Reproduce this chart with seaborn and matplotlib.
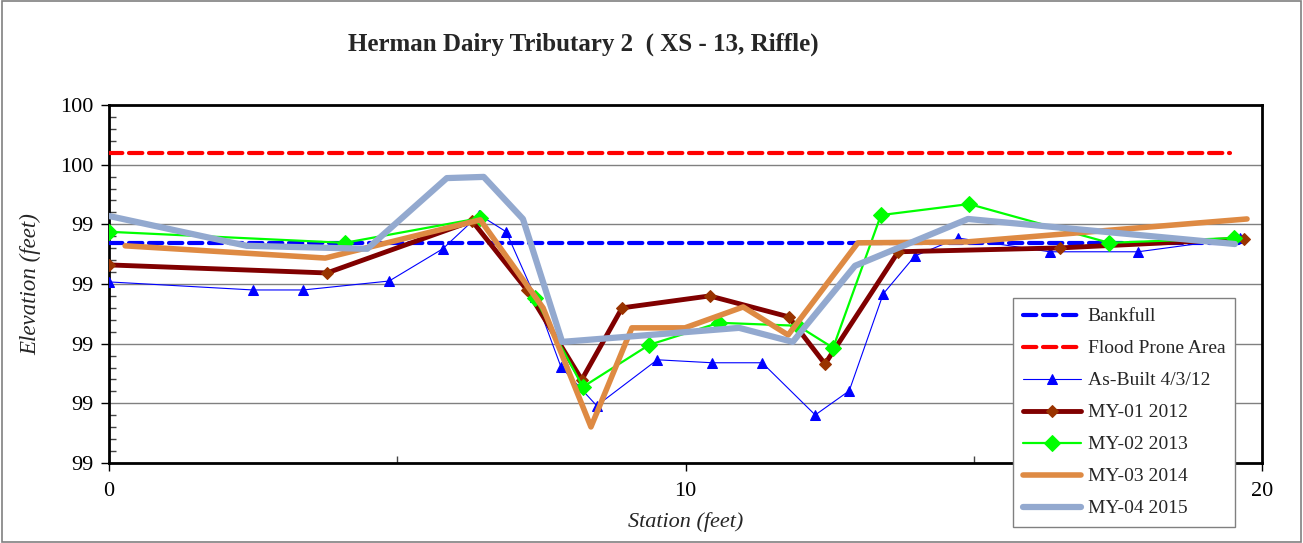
import numpy as np
import pandas as pd
import matplotlib
matplotlib.use("Agg")
import matplotlib.pyplot as plt
from matplotlib.patches import Rectangle
from matplotlib.ticker import MultipleLocator, FixedLocator, FixedFormatter
import seaborn as sns

# ---------------- data ----------------
title = "Herman Dairy Tributary 2  ( XS - 13, Riffle)"

bankfull_x = [0.0, 19.6]
bankfull_y = [99.338, 99.338]
flood_x = [0.0, 19.45]
flood_y = [99.639, 99.639]

asbuilt_x = [0.00, 2.50, 3.37, 4.86, 5.79, 6.42, 6.89, 7.39, 7.84, 8.46, 9.51,
             10.46, 11.33, 12.25, 12.84, 13.43, 13.98, 14.73, 16.32, 17.85, 19.62]
asbuilt_y = [99.207, 99.180, 99.180, 99.210, 99.318, 99.432, 99.375, 99.157,
             98.922, 98.792, 98.946, 98.936, 98.936, 98.761, 98.842, 99.167,
             99.294, 99.354, 99.308, 99.308, 99.354]

my01_x = [0.00, 3.78, 6.30, 7.25, 8.20, 8.90, 10.42, 11.79, 12.42, 13.69, 16.50, 19.69]
my01_y = [99.264, 99.237, 99.411, 99.180, 98.879, 99.120, 99.160, 99.090,
          98.932, 99.308, 99.321, 99.351]

my02_x = [0.00, 4.09, 6.44, 7.39, 8.22, 9.37, 10.58, 11.95, 12.56, 13.39, 14.92, 17.35, 19.51]
my02_y = [99.375, 99.338, 99.421, 99.153, 98.855, 98.996, 99.070, 99.060,
          98.986, 99.431, 99.468, 99.338, 99.354]

my03_x = [0.28, 3.75, 6.44, 7.53, 8.36, 9.07, 9.99, 11.00, 11.78, 12.99, 14.88, 19.74]
my03_y = [99.328, 99.287, 99.415, 99.120, 98.721, 99.053, 99.053, 99.123,
          99.029, 99.338, 99.341, 99.418]

my04_x = [0.00, 2.39, 4.48, 5.86, 6.50, 7.18, 7.86, 10.93, 11.86, 12.94, 14.90, 19.53]
my04_y = [99.428, 99.328, 99.318, 99.555, 99.559, 99.418, 99.006, 99.053,
          99.006, 99.261, 99.418, 99.334]

y_ticks = [98.6, 98.8, 99.0, 99.2, 99.4, 99.6, 99.8]
y_tick_labels = ["99", "99", "99", "99", "99", "100", "100"]
x_ticks = [0, 10, 20]
x_tick_labels = ["0", "10", "20"]

# ---------------- style ----------------
sns.set_theme(style="white")
plt.rcParams['font.family'] = ['Liberation Serif', 'DejaVu Serif']

fig = plt.figure(figsize=(13.03, 5.43), dpi=100)
ax = fig.add_axes([109/1303, 1-463/543, (1262-109)/1303, (463-105)/543])

series = [
    ("Bankfull", bankfull_x, bankfull_y,
     dict(color="#0000FF", lw=3, linestyle=(0, (3.2, 1.6)), marker=None)),
    ("Flood Prone Area", flood_x, flood_y,
     dict(color="#FF0000", lw=3, linestyle=(0, (3.2, 1.6)), marker=None)),
    ("As-Built 4/3/12", asbuilt_x, asbuilt_y,
     dict(color="#0000FF", lw=0.8, marker="^", markersize=7,
          markerfacecolor="#0000FF", markeredgecolor="#0000FF")),
    ("MY-01 2012", my01_x, my01_y,
     dict(color="#800000", lw=3.5, marker="D", markersize=6,
          markerfacecolor="#993300", markeredgecolor="#993300")),
    ("MY-02 2013", my02_x, my02_y,
     dict(color="#00FF00", lw=1.6, marker="D", markersize=8,
          markerfacecolor="#00FF00", markeredgecolor="#00FF00")),
    ("MY-03 2014", my03_x, my03_y,
     dict(color="#DE8A43", lw=4, marker=None)),
    ("MY-04 2015", my04_x, my04_y,
     dict(color="#93A9CF", lw=4.5, marker=None)),
]

for i, (name, xs, ys, st) in enumerate(series):
    df = pd.DataFrame({"Station": xs, "Elevation": ys})
    kw = dict(st)
    ls = kw.pop("linestyle", "-")
    sns.lineplot(data=df, x="Station", y="Elevation", ax=ax, sort=False,
                 estimator=None, label=name, linestyle=ls,
                 solid_capstyle="round", dash_capstyle="round", zorder=3 + i, **kw)

ax.set_xlim(0, 20)
ax.set_ylim(98.6, 99.8)

ax.yaxis.set_major_locator(FixedLocator(y_ticks))
ax.yaxis.set_major_formatter(FixedFormatter(y_tick_labels))
ax.yaxis.set_minor_locator(MultipleLocator(0.04))
ax.xaxis.set_major_locator(FixedLocator(x_ticks))
ax.xaxis.set_major_formatter(FixedFormatter(x_tick_labels))
ax.xaxis.set_minor_locator(MultipleLocator(5))

ax.tick_params(axis="both", which="major", direction="out", length=6, width=1,
               color="black", labelsize=16, labelcolor="black", pad=5,
               left=True, bottom=True)
ax.tick_params(axis="both", which="minor", direction="in", length=5, width=1,
               color="#444444", left=True, bottom=True)
ax.tick_params(axis="x", which="major", pad=8)

ax.grid(axis="y", which="major", color="#808080", lw=1.0)
ax.grid(axis="x", visible=False)
ax.set_axisbelow(True)

for side in ["left", "bottom", "right", "top"]:
    ax.spines[side].set_visible(True)
    ax.spines[side].set_color("black")
    ax.spines[side].set_linewidth(2)

ax.set_xlabel("Station (feet)", fontsize=16, style="italic", labelpad=8)
ax.set_ylabel("Elevation (feet)", fontsize=16.5, style="italic", labelpad=14)

fig.text(583/1303, 1-44/543, title, ha="center", va="center",
         fontsize=18, fontweight="bold")

ax.get_legend().remove()
handles, labels = ax.get_legend_handles_labels()
leg = fig.legend(handles, labels, loc="upper left",
                 bbox_to_anchor=(1013/1303, 1-298/543),
                 bbox_transform=fig.transFigure, borderaxespad=0,
                 frameon=True, fancybox=False, fontsize=14,
                 labelspacing=0.74, handlelength=3.0, handletextpad=0.35,
                 borderpad=0.5, framealpha=1)
leg.get_frame().set_edgecolor("#808080")
leg.get_frame().set_linewidth(1.0)

fig.patches.append(Rectangle((0.0015, 0.002), 0.997, 0.996, transform=fig.transFigure,
                             fill=False, edgecolor="#808080", lw=1.2))

fig.savefig("out.png", dpi=100)
